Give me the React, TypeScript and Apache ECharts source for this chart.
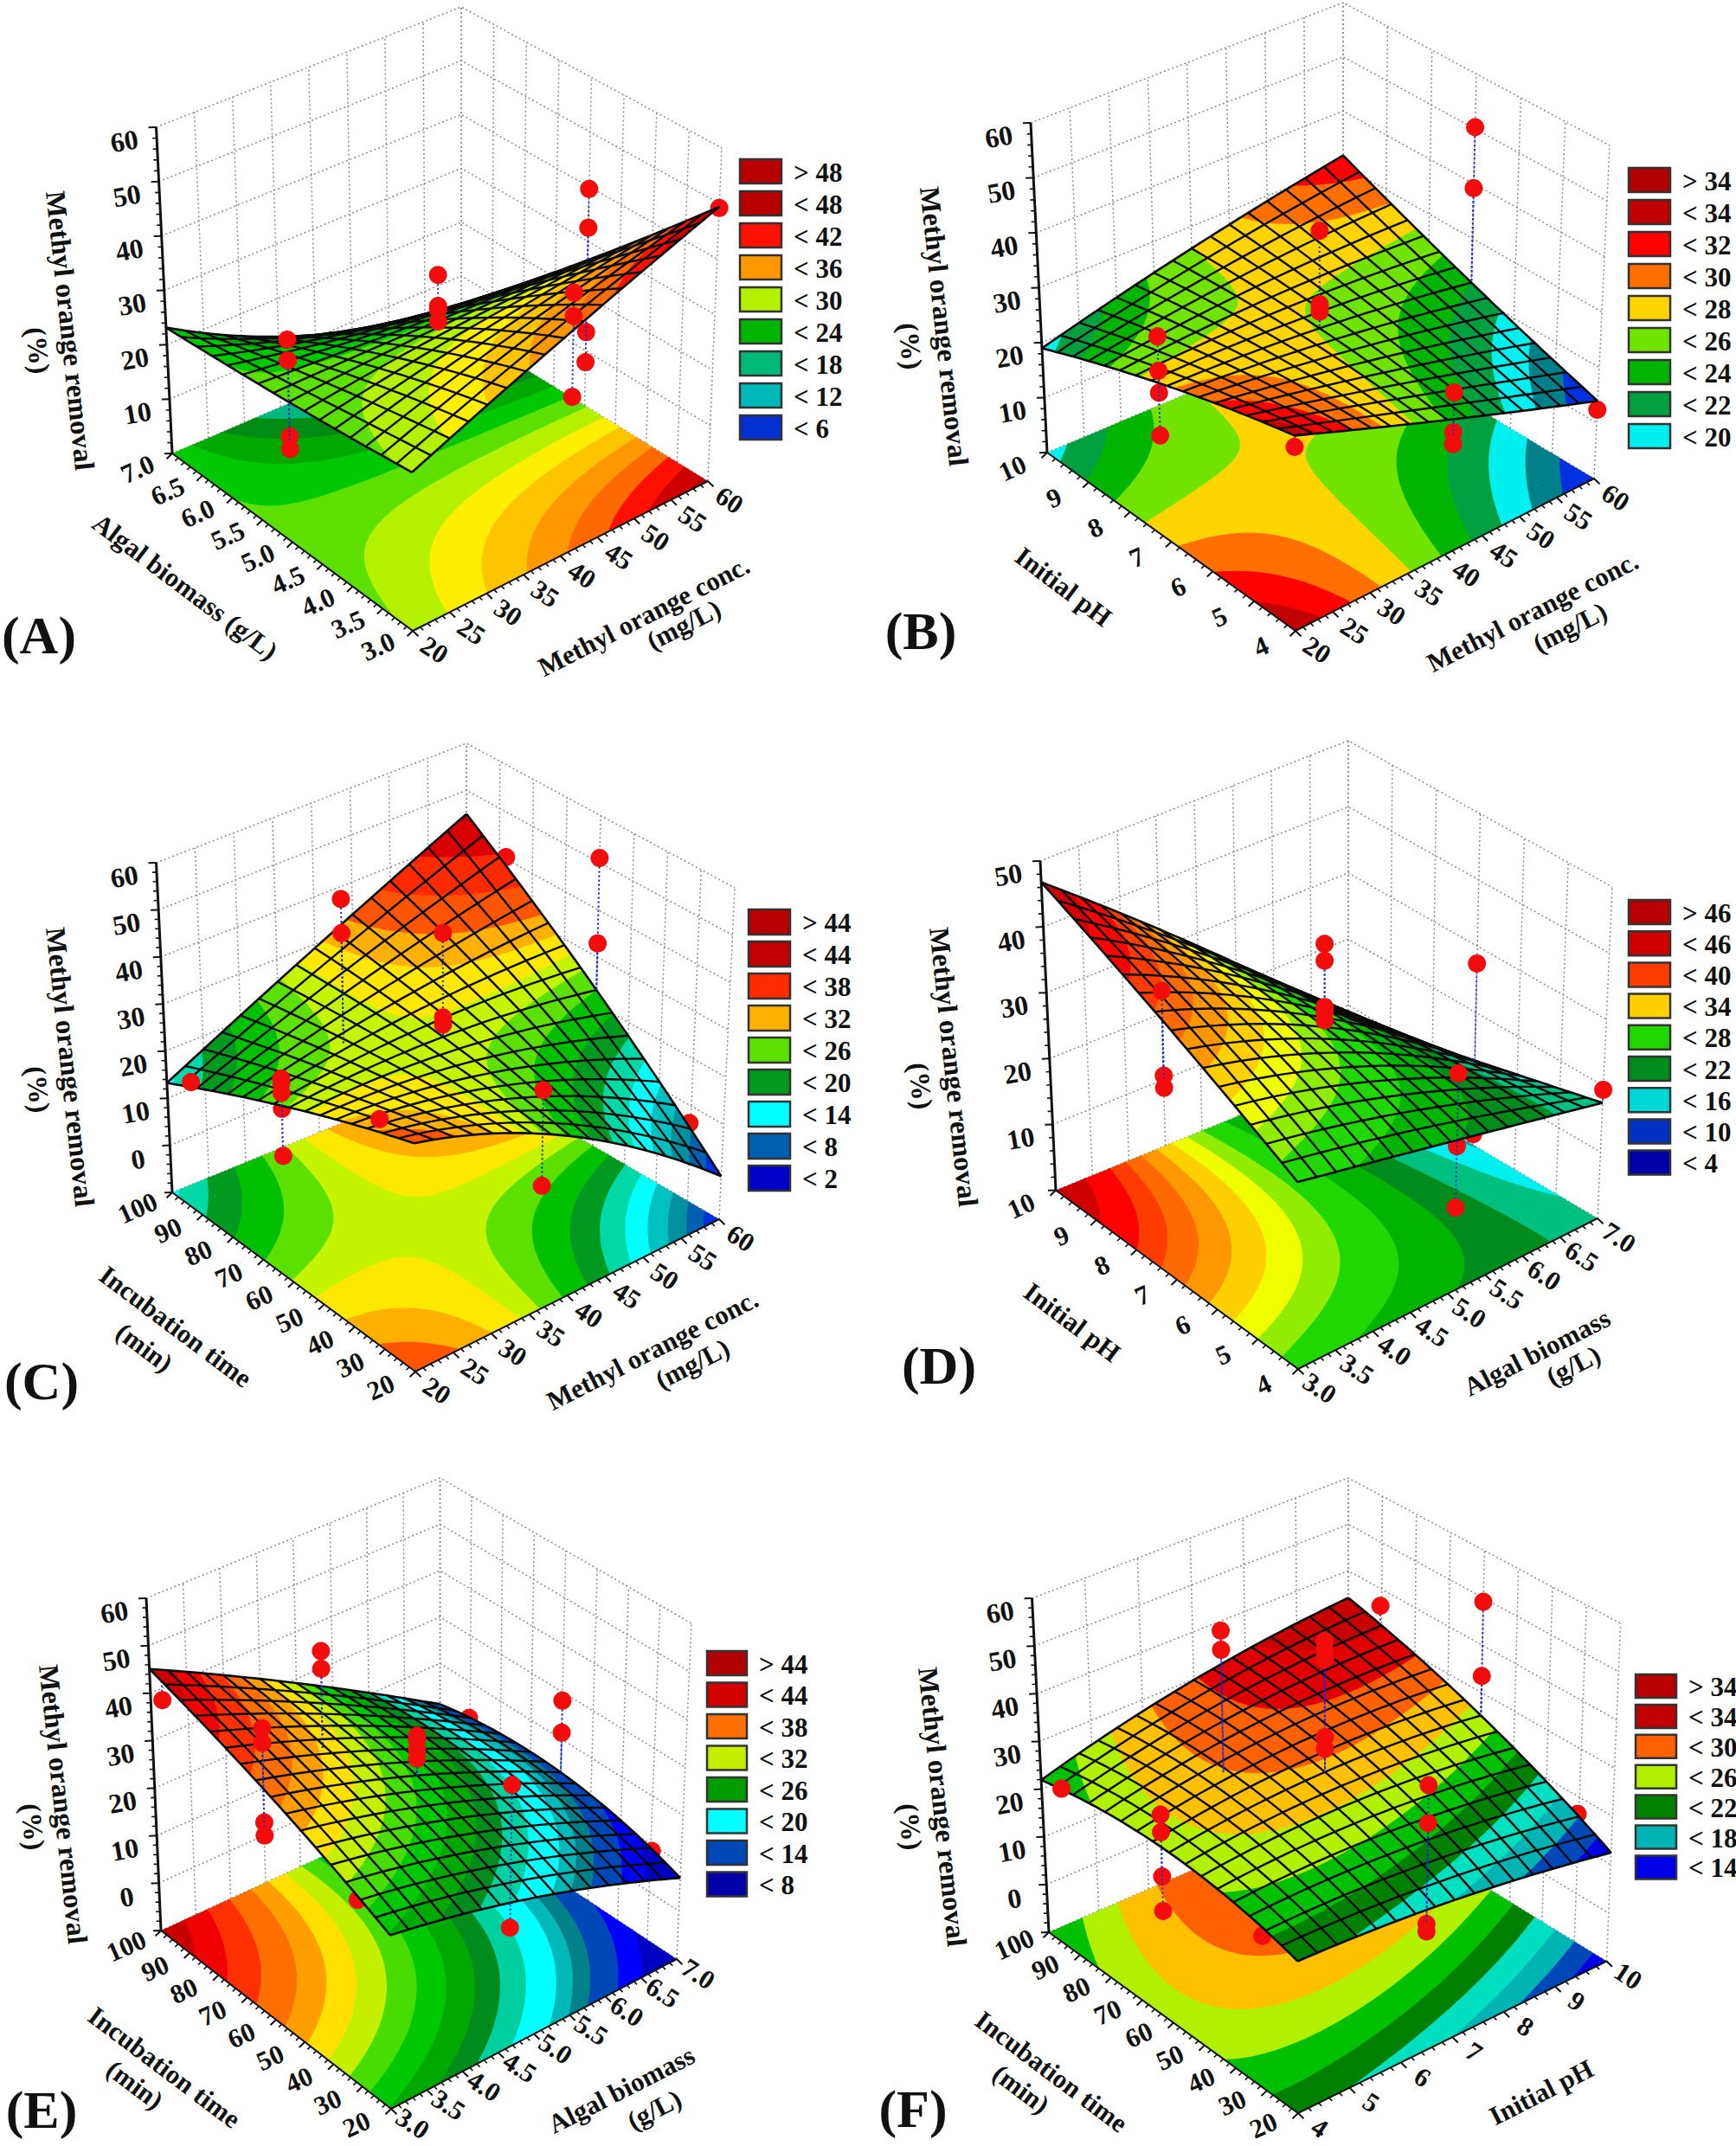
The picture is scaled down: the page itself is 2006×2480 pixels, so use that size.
import React, { useEffect, useRef } from "react";
import * as echarts from "echarts";

// ---------- values: response surface tables (rows: left axis low→high, columns: right axis low→high)
const surfaceA = [
  [27, 32.5, 38, 43.5, 49],
  [27, 31, 34, 36.5, 39],
  [24.5, 25.5, 26, 26, 26],
  [23.5, 21, 18.5, 16.5, 15.5],
  [23.5, 16, 11, 7, 5],
];
const surfaceB = [
  [33.5, 29, 24, 18.8, 14],
  [31.3, 28, 25, 21, 18],
  [27.8, 26.8, 26.3, 24, 22],
  [23.3, 25, 26.8, 27, 26.5],
  [19, 23, 25.6, 28.7, 32],
];
const surfaceC = [
  [35, 29, 22.5, 12.5, -1],
  [31.5, 29, 26, 19, 11],
  [26, 27, 27, 25, 23],
  [18.5, 24, 28, 31, 35],
  [13.5, 22, 29.5, 36.5, 45],
];
const surfaceD = [
  [26.5, 24.8, 22.5, 19.8, 17.5],
  [31.5, 29.5, 25.5, 20, 15.5],
  [36.5, 33, 27.5, 20, 13],
  [41.5, 36, 29.5, 20, 10.5],
  [47, 37, 28, 18, 8],
];
const surfaceE = [
  [25, 21.5, 18, 13.5, 7],
  [30.5, 27.5, 23, 17, 10.5],
  [35.5, 32, 26, 20, 13],
  [40.5, 35.5, 29, 21, 14],
  [45, 37.5, 29, 20, 11],
];
const surfaceF = [
  [20.5, 19.8, 18, 15.6, 12.5],
  [23.2, 24.5, 23.5, 21.5, 19.7],
  [24.8, 27.5, 27.5, 26.5, 25],
  [24.2, 27.8, 29.5, 30.5, 30.5],
  [22, 26, 30, 32.4, 34],
];

// observed points: [right axis value, left axis value, removal, 1 = behind the surface]
const pointsA = [
  [20, 5, 36.3], [20, 5, 32.4], [20, 5, 18.8], [20, 5, 16.6],
  [40, 5, 35.9], [40, 5, 30.3], [40, 5, 29.7], [40, 5, 27.5],
  [60, 5, 39.6], [60, 5, 32.5], [60, 5, 13.4], [60, 5, 7.9],
  [41.2, 3, 45.7], [41.2, 3, 41.6], [41.2, 3, 27.3],
  [60, 3, 49.2],
];
const pointsB = [
  [20, 7.2, 35.4], [20, 7.2, 29.3], [20, 7.2, 25.4], [20, 7.2, 17.8],
  [40, 7, 43.7], [40, 7, 30.5], [40, 7, 29.7], [40, 7, 28.9],
  [60, 7, 50.3], [60, 7, 39.2],
  [40.8, 4, 28.1], [40.8, 4, 21.1], [40.8, 4, 19],
  [20, 4, 31.8], [60, 4, 12.4],
];
const pointsC = [
  [20, 62.4, 30.6], [20, 62.4, 29.7], [20, 62.4, 27.9], [20, 62.4, 24.4], [20, 62.4, 14.9],
  [40, 60, 48.5], [40, 60, 30.9], [40, 60, 29.4],
  [60, 60, 51], [60, 60, 32.9],
  [32, 72, 56], [32, 72, 48.9],
  [22, 36, 32], [20, 92, 17], [60, 88, 40.4, 1],
  [36.4, 20, 34.4], [36.4, 20, 27.8, 1], [36.4, 20, 15],
  [60, 30.4, 6.3, 1],
];
const pointsD = [
  [3, 7.2, 41.7], [3, 7.2, 29.2], [3, 7.2, 27.4],
  [5, 7, 40], [5, 7, 37.5], [5, 7, 30.6], [5, 7, 29.9], [5, 7, 28.6],
  [7, 7, 27.4], [7, 7, 1.6],
  [5.08, 4, 31.9], [5.08, 4, 21.2], [5.08, 4, 12.2],
  [7, 4, 19.4],
];
const pointsE = [
  [3, 62.4, 48.9], [3, 62.4, 45.9], [3, 62.4, 29.5], [3, 62.4, 26.8],
  [4.2, 72, 52.9], [4.2, 72, 49.2],
  [5, 60, 34.8], [5, 60, 33.8], [5, 60, 31.9], [5, 60, 30],
  [7, 60, 28.2], [7, 60, 21.4],
  [4.64, 20, 43.5], [4.64, 20, 29.6, 1], [4.64, 20, 14.4],
  [3, 96, 40.3, 1], [3.2, 36, 23.7, 1], [7, 90.4, 12.2, 1], [7, 29.6, 8.7, 1],
];
const pointsF = [
  [4, 62.4, 31.6], [4, 62.4, 28], [4, 62.4, 18.9], [4, 62.4, 11.8],
  [5.8, 72, 57.4], [5.8, 72, 53.4],
  [7, 60, 54.8], [7, 60, 52.9], [7, 60, 51], [7, 60, 34.8], [7, 60, 32.4],
  [10, 60, 49.2], [10, 60, 33.5],
  [6.46, 20, 44], [6.46, 20, 36.3], [6.46, 20, 15.8], [6.46, 20, 14.5],
  [10, 90.4, 36.3], [4, 93.6, 23], [10, 30.4, 16.4, 1], [4.3, 36, 17.1, 1],
];

// contour band limits and colours
const boundsA = [3, 6, 9, 12, 15, 18, 21, 24, 27, 30, 33, 36, 39, 42, 45, 48];
const colorsA = ["#0000f0", "#0050c0", "#00b8b8", "#00f0f0", "#00b880", "#008c14", "#00a800", "#00c800", "#5ce000", "#b4f000", "#ffee00", "#ffc400", "#ff9800", "#ff6a00", "#ff1000", "#d00000", "#b80000"];
const boundsB = [14, 16, 18, 20, 22, 24, 26, 28, 30, 32, 34];
const colorsB = ["#0000e0", "#0030e0", "#008088", "#00f0f0", "#00a040", "#00b400", "#70e400", "#ffd400", "#ff7000", "#ff0000", "#c00000", "#b00000"];
const boundsC = [-1, 2, 5, 8, 11, 14, 17, 20, 23, 25.5, 27.5, 30, 32.5, 36, 40, 44];
const colorsC = ["#0000c8", "#0030e0", "#0060b0", "#0090a0", "#00c0c0", "#00ffff", "#00d8a8", "#009a20", "#00c000", "#5ce000", "#c4f400", "#ffe800", "#ffb000", "#ff5500", "#ff2a00", "#d80000", "#b80000"];
const boundsD = [4, 7, 10, 13, 16, 19, 22, 25, 28, 30, 32, 34, 36, 38, 40, 43, 46];
const colorsD = ["#0000a8", "#0010b0", "#0030c0", "#00a0a8", "#00f0f0", "#00c080", "#008c1c", "#00b400", "#20d800", "#90ec00", "#f0ff00", "#ffd000", "#ff9800", "#ff6a00", "#ff3c00", "#ff0000", "#d00000", "#b80000"];
const boundsE = [10, 12, 14.3, 15.7, 17, 19.3, 21.2, 23, 25, 27, 29, 31, 33, 35, 37.5, 40, 42.5, 44.5];
const colorsE = ["#0000c0", "#0000ff", "#0048b8", "#008088", "#00b8b8", "#00ffff", "#00d0a0", "#008c1c", "#00a800", "#00c800", "#48dc00", "#c4f000", "#ffe000", "#ffa000", "#ff6e00", "#ff3000", "#f00000", "#c80000", "#b00000"];
const boundsF = [14, 16, 18, 20, 22, 24, 26, 28, 30, 32, 34];
const colorsF = ["#0000e8", "#0048b8", "#00b4b4", "#00e0c0", "#008000", "#00c000", "#b0f000", "#ffc000", "#ff6000", "#e00000", "#c80000", "#b80000"];

// legends
const legendLabelsA = ["> 48", "< 48", "< 42", "< 36", "< 30", "< 24", "< 18", "< 12", "< 6"];
const legendColorsA = ["#b80000", "#b80000", "#ff1000", "#ff9800", "#b4f000", "#00b400", "#00b878", "#00b8b8", "#0030d0"];
const legendLabelsB = ["> 34", "< 34", "< 32", "< 30", "< 28", "< 26", "< 24", "< 22", "< 20"];
const legendColorsB = ["#b00000", "#c00000", "#ff0000", "#ff7000", "#ffd400", "#70e400", "#00b400", "#00a040", "#00f0f0"];
const legendLabelsC = ["> 44", "< 44", "< 38", "< 32", "< 26", "< 20", "< 14", "< 8", "< 2"];
const legendColorsC = ["#b80000", "#c00000", "#ff2a00", "#ffb000", "#5ce000", "#009a20", "#00ffff", "#0060b0", "#0000c8"];
const legendLabelsD = ["> 46", "< 46", "< 40", "< 34", "< 28", "< 22", "< 16", "< 10", "< 4"];
const legendColorsD = ["#b80000", "#d00000", "#ff3c00", "#ffd000", "#20d800", "#008c1c", "#00d8d8", "#0030c0", "#0000a8"];
const legendLabelsE = ["> 44", "< 44", "< 38", "< 32", "< 26", "< 20", "< 14", "< 8"];
const legendColorsE = ["#b00000", "#d40000", "#ff6e00", "#c4f000", "#009c00", "#00ffff", "#0048b8", "#0000a8"];
const legendLabelsF = ["> 34", "< 34", "< 30", "< 26", "< 22", "< 18", "< 14"];
const legendColorsF = ["#b80000", "#c00000", "#ff6000", "#b0f000", "#008000", "#00b4b4", "#0000e8"];

// axis ticks
const ticksMO = [20, 25, 30, 35, 40, 45, 50, 55, 60];
const labelsMO = ["20", "25", "30", "35", "40", "45", "50", "55", "60"];
const ticksBiomass = [3, 3.5, 4, 4.5, 5, 5.5, 6, 6.5, 7];
const labelsBiomass = ["3.0", "3.5", "4.0", "4.5", "5.0", "5.5", "6.0", "6.5", "7.0"];
const ticksPH = [4, 5, 6, 7, 8, 9, 10];
const labelsPH = ["4", "5", "6", "7", "8", "9", "10"];
const ticksTime = [20, 30, 40, 50, 60, 70, 80, 90, 100];
const labelsTime = ["20", "30", "40", "50", "60", "70", "80", "90", "100"];
const zTicks60 = [10, 20, 30, 40, 50, 60];
const zTicks50 = [10, 20, 30, 40, 50];
const zTicks60b = [0, 10, 20, 30, 40, 50, 60];

const TITLE_Z = "Methyl orange removal";
const TITLE_Z2 = "(%)";

type XY = [number, number];
interface Layout {
  floor: { F: XY; R: XY; L: XY; B: XY };
  top: { F: XY; R: XY; L: XY; B: XY };
  legend: { x: number; y: number; w: number; h: number; step: number };
  titleZ: XY; titleZ2: XY;
  titleL: XY; titleL2?: XY;
  titleR: XY; titleR2?: XY;
  tag: XY;
  rightDy: number;
  leftDy: number;
}

const layouts: Record<string, Layout> = {
  A: {
    floor: { F: [477, 729], R: [818, 556], L: [199, 524], B: [533, 381] },
    top: { F: [475, 328], R: [834, 171], L: [180.5, 147], B: [533, 8] },
    legend: { x: 855, y: 184, w: 48, h: 28, step: 37 },
    titleZ: [81, 382], titleZ2: [44, 405], titleL: [214, 678], titleR: [744, 712], titleR2: [790, 722], tag: [45, 734], rightDy: 22, leftDy: 18,
  },
  B: {
    floor: { F: [1497, 729], R: [1842, 553], L: [1210, 523], B: [1552, 379] },
    top: { F: [1495, 328], R: [1860, 168], L: [1191, 142], B: [1552, 3] },
    legend: { x: 1882, y: 194, w: 48, h: 28, step: 37 },
    titleZ: [1091, 377], titleZ2: [1052, 400], titleL: [1229, 678], titleR: [1771, 707], titleR2: [1814, 725], tag: [1064, 729], rightDy: 22, leftDy: 18,
  },
  C: {
    floor: { F: [480, 1585], R: [831, 1409], L: [199, 1378], B: [539, 1239] },
    top: { F: [478, 1175], R: [849, 1026], L: [180.5, 997], B: [539, 859] },
    legend: { x: 865, y: 1051, w: 48, h: 29, step: 37 },
    titleZ: [81, 1233], titleZ2: [44, 1259], titleL: [203, 1533], titleL2: [167, 1557], titleR: [754, 1560], titleR2: [800, 1576], tag: [48, 1596], rightDy: 22, leftDy: 18,
  },
  D: {
    floor: { F: [1500, 1582], R: [1846, 1408], L: [1220, 1375.5], B: [1558, 1238] },
    top: { F: [1499, 1177], R: [1863, 1025], L: [1202, 995], B: [1558, 856] },
    legend: { x: 1882, y: 1040, w: 48, h: 28, step: 36.2 },
    titleZ: [1102, 1233], titleZ2: [1064, 1255], titleL: [1239, 1528], titleR: [1776, 1563], titleR2: [1818, 1578], tag: [1085, 1578], rightDy: 22, leftDy: 18,
  },
  E: {
    floor: { F: [452, 2437], R: [782, 2264], L: [186, 2231], B: [508.5, 2083] },
    top: { F: [450, 2034], R: [799, 1876], L: [169, 1847], B: [508.5, 1708] },
    legend: { x: 817, y: 1908, w: 46, h: 28, step: 36.5 },
    titleZ: [73, 2085], titleZ2: [38, 2111], titleL: [190, 2389], titleL2: [156, 2409], titleR: [718, 2415], titleR2: [756, 2438], tag: [48, 2438], rightDy: 17, leftDy: 18,
  },
  F: {
    floor: { F: [1500, 2442], R: [1856.5, 2266.5], L: [1212, 2233], B: [1558, 2083] },
    top: { F: [1499, 2039], R: [1872.6, 1876], L: [1192.5, 1847], B: [1558, 1708] },
    legend: { x: 1890, y: 1935, w: 47, h: 27, step: 34.9 },
    titleZ: [1089, 2088], titleZ2: [1052, 2111], titleL: [1215, 2394], titleL2: [1180, 2414], titleR: [1781, 2418], tag: [1055, 2437], rightDy: 17, leftDy: 14,
  },
};

interface PanelSpec {
  key: string; tag: string;
  surface: number[][]; points: number[][];
  bounds: number[]; colors: string[];
  legendLabels: string[]; legendColors: string[];
  xTicks: number[]; xLabels: string[]; xMinor: number; 
  yTicks: number[]; yLabels: string[]; yMinor: number;
  zMin: number; zMax: number; zTicks: number[];
  titleL: string; titleL2?: string; titleR: string; titleR2?: string;
}

const panels: PanelSpec[] = [
  { key: "A", tag: "(A)", surface: surfaceA, points: pointsA, bounds: boundsA, colors: colorsA, legendLabels: legendLabelsA, legendColors: legendColorsA,
    xTicks: ticksMO, xLabels: labelsMO, xMinor: 5, yTicks: ticksBiomass, yLabels: labelsBiomass, yMinor: 5, zMin: 0, zMax: 60, zTicks: zTicks60,
    titleL: "Algal biomass (g/L)", titleR: "Methyl orange conc.", titleR2: "(mg/L)" },
  { key: "B", tag: "(B)", surface: surfaceB, points: pointsB, bounds: boundsB, colors: colorsB, legendLabels: legendLabelsB, legendColors: legendColorsB,
    xTicks: ticksMO, xLabels: labelsMO, xMinor: 5, yTicks: ticksPH, yLabels: labelsPH, yMinor: 5, zMin: 0, zMax: 60, zTicks: zTicks60,
    titleL: "Initial pH", titleR: "Methyl orange conc.", titleR2: "(mg/L)" },
  { key: "C", tag: "(C)", surface: surfaceC, points: pointsC, bounds: boundsC, colors: colorsC, legendLabels: legendLabelsC, legendColors: legendColorsC,
    xTicks: ticksMO, xLabels: labelsMO, xMinor: 5, yTicks: ticksTime, yLabels: labelsTime, yMinor: 5, zMin: -10, zMax: 60, zTicks: zTicks60b,
    titleL: "Incubation time", titleL2: "(min)", titleR: "Methyl orange conc.", titleR2: "(mg/L)" },
  { key: "D", tag: "(D)", surface: surfaceD, points: pointsD, bounds: boundsD, colors: colorsD, legendLabels: legendLabelsD, legendColors: legendColorsD,
    xTicks: ticksBiomass, xLabels: labelsBiomass, xMinor: 5, yTicks: ticksPH, yLabels: labelsPH, yMinor: 5, zMin: 0, zMax: 50, zTicks: zTicks50,
    titleL: "Initial pH", titleR: "Algal biomass", titleR2: "(g/L)" },
  { key: "E", tag: "(E)", surface: surfaceE, points: pointsE, bounds: boundsE, colors: colorsE, legendLabels: legendLabelsE, legendColors: legendColorsE,
    xTicks: ticksBiomass, xLabels: labelsBiomass, xMinor: 5, yTicks: ticksTime, yLabels: labelsTime, yMinor: 5, zMin: -10, zMax: 60, zTicks: zTicks60b,
    titleL: "Incubation time", titleL2: "(min)", titleR: "Algal biomass", titleR2: "(g/L)" },
  { key: "F", tag: "(F)", surface: surfaceF, points: pointsF, bounds: boundsF, colors: colorsF, legendLabels: legendLabelsF, legendColors: legendColorsF,
    xTicks: ticksPH, xLabels: labelsPH, xMinor: 5, yTicks: ticksTime, yLabels: labelsTime, yMinor: 5, zMin: -10, zMax: 60, zTicks: zTicks60b,
    titleL: "Incubation time", titleL2: "(min)", titleR: "Initial pH" },
];

const FONT = "Liberation Serif, Times New Roman, serif";
const MESH_CELLS = 16;
const FINE = 64;
const DEG = Math.PI / 180;

// Draws the read table as the smooth second-order response surface that such a plot shows.
function smoothSampler(table: number[][]) {
  const xs = [-2, -1, 0, 1, 2];
  const basis = [xs.map(() => 1), xs, xs.map((x) => x * x - 2)];
  const norm = [5, 10, 14];
  const coef = basis.map((bv, a) =>
    basis.map((bu, b) => {
      let s = 0;
      table.forEach((row, j) => row.forEach((val, i) => { s += val * bv[j] * bu[i]; }));
      return s / (norm[a] * norm[b]);
    }),
  );
  const ev = (t: number) => {
    const x = 4 * t - 2;
    return [1, x, x * x - 2];
  };
  return (u: number, v: number) => {
    const bu = ev(u), bv = ev(v);
    let s = 0;
    for (let a = 0; a < 3; a++) for (let b = 0; b < 3; b++) s += coef[a][b] * bv[a] * bu[b];
    return s;
  };
}

type V3 = [number, number, number];

function clipPoly(poly: V3[], limit: number, keepAbove: boolean): V3[] {
  const out: V3[] = [];
  for (let i = 0; i < poly.length; i++) {
    const a = poly[i], b = poly[(i + 1) % poly.length];
    const ina = keepAbove ? a[2] >= limit : a[2] <= limit;
    const inb = keepAbove ? b[2] >= limit : b[2] <= limit;
    if (ina) out.push(a);
    if (ina !== inb) {
      const t = (limit - a[2]) / (b[2] - a[2]);
      out.push([a[0] + (b[0] - a[0]) * t, a[1] + (b[1] - a[1]) * t, limit]);
    }
  }
  return out;
}

function buildBandPaths(
  sample: (u: number, v: number) => number,
  bounds: number[], colors: string[],
  toScreen: (u: number, v: number, z: number) => XY,
) {
  const zs: number[][] = [];
  for (let j = 0; j <= FINE; j++) {
    const row: number[] = [];
    for (let i = 0; i <= FINE; i++) row.push(sample(i / FINE, j / FINE));
    zs.push(row);
  }
  const paths: any[] = [];
  for (let b = 0; b < colors.length; b++) {
    const lo = b === 0 ? -Infinity : bounds[b - 1];
    const hi = b === colors.length - 1 ? Infinity : bounds[b] + 0.25;
    const parts: string[] = [];
    const emit = (poly: V3[]) => {
      if (poly.length < 3) return;
      let s = "";
      poly.forEach((p, k) => {
        const q = toScreen(p[0], p[1], p[2]);
        s += (k === 0 ? "M" : "L") + q[0].toFixed(1) + " " + q[1].toFixed(1);
      });
      parts.push(s + "Z");
    };
    for (let j = 0; j < FINE; j++) {
      for (let i = 0; i < FINE; i++) {
        const u0 = i / FINE, u1 = (i + 1) / FINE, v0 = j / FINE, v1 = (j + 1) / FINE;
        const a: V3 = [u0, v0, zs[j][i]], c: V3 = [u1, v0, zs[j][i + 1]], d: V3 = [u1, v1, zs[j + 1][i + 1]], e: V3 = [u0, v1, zs[j + 1][i]];
        const mn = Math.min(a[2], c[2], d[2], e[2]), mx = Math.max(a[2], c[2], d[2], e[2]);
        if (mx < lo || mn > hi) continue;
        if (mn >= lo && mx <= hi) { emit([a, c, d, e]); continue; }
        for (const tri of [[a, c, d], [a, d, e]] as V3[][]) {
          let poly = tri;
          if (lo !== -Infinity) poly = clipPoly(poly, lo, true);
          if (hi !== Infinity && poly.length) poly = clipPoly(poly, hi, false);
          emit(poly);
        }
      }
    }
    if (parts.length) {
      paths.push({ type: "path", silent: true, shape: { pathData: parts.join("") }, style: { fill: colors[b], stroke: null } });
    }
  }
  return paths;
}

function buildPanel(spec: PanelSpec) {
  const lay = layouts[spec.key];
  const sample = smoothSampler(spec.surface);
  const bil = (c: { F: XY; R: XY; L: XY; B: XY }, u: number, v: number, k: 0 | 1) =>
    c.F[k] * (1 - u) * (1 - v) + c.R[k] * u * (1 - v) + c.L[k] * (1 - u) * v + c.B[k] * u * v;
  const project = (u: number, v: number, z: number): XY => {
    const w = (z - spec.zMin) / (spec.zMax - spec.zMin);
    return [
      bil(lay.floor, u, v, 0) * (1 - w) + bil(lay.top, u, v, 0) * w,
      bil(lay.floor, u, v, 1) * (1 - w) + bil(lay.top, u, v, 1) * w,
    ];
  };
  const xMin = spec.xTicks[0], xMax = spec.xTicks[spec.xTicks.length - 1];
  const yMin = spec.yTicks[0], yMax = spec.yTicks[spec.yTicks.length - 1];
  const U = (x: number) => (x - xMin) / (xMax - xMin);
  const V = (y: number) => (y - yMin) / (yMax - yMin);

  const children: any[] = [];
  const line = (pts: XY[], stroke: string, width: number, dash?: number[]) =>
    children.push({ type: "polyline", silent: true, shape: { points: pts }, style: { stroke, lineWidth: width, lineDash: dash, fill: null } });
  const text = (s: string, p: XY, rotDeg: number, size: number, align = "center", weight = "bold") =>
    children.push({ type: "text", silent: true, x: p[0], y: p[1], rotation: rotDeg * DEG,
      style: { text: s, x: 0, y: 0, fill: "#111", font: `${weight} ${size}px ${FONT}`, align, verticalAlign: "middle" } });

  // walls
  const gray = "#8c8c8c";
  const dash = [2, 3];
  const zs = Array.from(new Set([spec.zMin, ...spec.zTicks, spec.zMax]));
  zs.forEach((z) => line([project(0, 1, z), project(1, 1, z), project(1, 0, z)], gray, 1.5, dash));
  spec.xTicks.forEach((x) => line([project(U(x), 1, spec.zMin), project(U(x), 1, spec.zMax)], gray, 1.5, dash));
  spec.yTicks.forEach((y) => line([project(1, V(y), spec.zMin), project(1, V(y), spec.zMax)], gray, 1.5, dash));

  // floor contour map
  children.push(...buildBandPaths(sample, spec.bounds, spec.colors, (u, v) => project(u, v, spec.zMin)));

  // floor edges and ticks
  const tickDirL: XY = [-0.72, 0.69];
  const tickDirR: XY = [0.72, 0.69];
  const tick = (p: XY, d: XY, len: number, w = 1.6) => line([p, [p[0] + d[0] * len, p[1] + d[1] * len]], "#111", w);
  line([project(0, 1, spec.zMin), project(0, 0, spec.zMin), project(1, 0, spec.zMin)], "#111", 2);
  for (let i = 0; i < spec.xTicks.length; i++) {
    const u = U(spec.xTicks[i]);
    const p = project(u, 0, spec.zMin);
    tick(p, tickDirR, 9, 2);
    const lp: XY = [p[0] + 25, p[1] + lay.rightDy];
    text(spec.xLabels[i], lp, -33, 31);
    if (i < spec.xTicks.length - 1) {
      const u2 = U(spec.xTicks[i + 1]);
      for (let m = 1; m < spec.xMinor; m++) tick(project(u + ((u2 - u) * m) / spec.xMinor, 0, spec.zMin), tickDirR, 5);
    }
  }
  for (let i = 0; i < spec.yTicks.length; i++) {
    const v = V(spec.yTicks[i]);
    const p = project(0, v, spec.zMin);
    tick(p, tickDirL, 9, 2);
    const lp: XY = [p[0] - 40, p[1] + lay.leftDy];
    text(spec.yLabels[i], lp, 24, 31);
    if (i < spec.yTicks.length - 1) {
      const v2 = V(spec.yTicks[i + 1]);
      for (let m = 1; m < spec.yMinor; m++) tick(project(0, v + ((v2 - v) * m) / spec.yMinor, spec.zMin), tickDirL, 5);
    }
  }

  // vertical axis
  line([project(0, 1, spec.zMin), project(0, 1, spec.zMax)], "#111", 3);
  const zAll = spec.zTicks;
  const zStart = spec.zMin;
  for (let z = zStart; z <= spec.zMax + 1e-6; z += 2) {
    const major = Math.abs(z % 10) < 1e-6;
    tick(project(0, 1, z), [-1, 0.04], major ? 9 : 5, major ? 2 : 1.6);
  }
  zAll.forEach((z) => {
    const p = project(0, 1, z);
    text(String(z), [p[0] - 37, p[1] + 16], 10, 32);
  });

  // points and spikes
  const spike = "#1c2ad8";
  const marks = spec.points.map((pt) => {
    const u = U(pt[0]), v = V(pt[1]);
    const surf = sample(u, v);
    return { u, v, z: pt[2], surf, behind: pt[3] === 1 || pt[2] < surf };
  });
  const drawMark = (m: any) => {
    line([project(m.u, m.v, m.z), project(m.u, m.v, m.surf)], spike, 2, [2, 3]);
    const p = project(m.u, m.v, m.z);
    children.push({ type: "circle", silent: true, shape: { cx: p[0], cy: p[1], r: 10.5 }, style: { fill: "#f20c0c", stroke: null } });
  };
  marks.filter((m) => m.behind).forEach(drawMark);

  // surface
  children.push(...buildBandPaths(sample, spec.bounds, spec.colors, (u, v, z) => project(u, v, z)));
  for (let i = 0; i <= MESH_CELLS; i++) {
    const a: XY[] = [], b: XY[] = [];
    for (let k = 0; k <= 32; k++) {
      const t = k / 32, g = i / MESH_CELLS;
      a.push(project(g, t, sample(g, t)));
      b.push(project(t, g, sample(t, g)));
    }
    const edge = i === 0 || i === MESH_CELLS;
    line(a, "#0a0a0a", edge ? 2.6 : 2.4);
    line(b, "#0a0a0a", edge ? 2.6 : 2.4);
  }
  marks.filter((m) => !m.behind).forEach(drawMark);

  // titles
  text(TITLE_Z, lay.titleZ, -84, 32.5);
  text(TITLE_Z2, lay.titleZ2, -84, 32.5);
  text(spec.titleL, lay.titleL, -37, 31);
  if (spec.titleL2 && lay.titleL2) text(spec.titleL2, lay.titleL2, -37, 31);
  text(spec.titleR, lay.titleR, 27, 31);
  if (spec.titleR2 && lay.titleR2) text(spec.titleR2, lay.titleR2, 27, 31);
  text(spec.tag, lay.tag, 0, 62);

  // legend
  spec.legendLabels.forEach((lab, i) => {
    const y = lay.legend.y + i * lay.legend.step;
    children.push({ type: "rect", silent: true, shape: { x: lay.legend.x, y, width: lay.legend.w, height: lay.legend.h },
      style: { fill: spec.legendColors[i], stroke: "#333", lineWidth: 2.5 } });
    text(lab, [lay.legend.x + lay.legend.w + 14, y + lay.legend.h / 2 + 1], 0, 31, "left");
  });

  return { type: "group", children };
}

export default function App() {
  const ref = useRef<HTMLDivElement>(null);
  useEffect(() => {
    if (!ref.current) return;
    const chart = echarts.init(ref.current, undefined, { renderer: "svg" });
    chart.setOption({
      animation: false,
      backgroundColor: "#ffffff",
      series: panels.map((spec) => {
        const group = buildPanel(spec);
        return {
          type: "custom",
          name: spec.tag,
          coordinateSystem: "none",
          silent: true,
          animation: false,
          clip: false,
          data: [[0]],
          renderItem: () => group,
        };
      }),
    });
    return () => chart.dispose();
  }, []);
  return <div ref={ref} style={{ position: "absolute", left: 0, top: 0, width: 2006, height: 2480 }} />;
}
